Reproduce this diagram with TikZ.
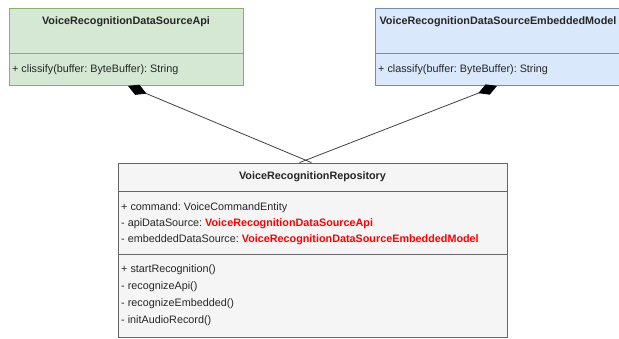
\documentclass[tikz,border=0pt]{standalone}
\usepackage{fontspec}
\setmainfont{Liberation Sans}
\usetikzlibrary{arrows.meta,positioning}
\definecolor{apifill}{HTML}{D5E8D4}
\definecolor{apiline}{HTML}{82B366}
\definecolor{modelfill}{HTML}{DAE8FC}
\definecolor{modelline}{HTML}{6C8EBF}
\definecolor{repofill}{HTML}{F5F5F5}
\definecolor{repoline}{HTML}{666666}
\definecolor{typered}{HTML}{FF0000}
\newcommand{\umlfont}{\fontsize{10.8}{13}\selectfont\frenchspacing}
\tikzset{
  classbox/.style={draw,line width=.8pt,inner sep=0pt},
  classname/.style={font=\umlfont\bfseries,text=black!85,inner sep=0pt},
  member/.style={font=\umlfont,anchor=west,inner sep=0pt,text=black!85},
  owns/.style={-{Diamond[length=20pt,width=11pt,fill=black,color=black]},draw=black!75,line width=.8pt}
}

\begin{document}
\begin{tikzpicture}[x=1pt,y=-1pt]
    \useasboundingbox (0,0) rectangle (619,338);
    \clip (0,0) rectangle (619,338);
    % data sources
    \node[classbox,fill=apifill,draw=apiline,minimum width=234pt,minimum height=77pt] (api) at (126,47) {};
    \draw[apiline,line width=.8pt] (api.west |- 0,53) -- (api.east |- 0,53);
    \node[classname] (apiname) at (126,21.5) {VoiceRecognitionDataSourceApi};
    \node[member] (apiop) at (12,70) {+ clissify(buffer: ByteBuffer): String};

    \node[classbox,fill=modelfill,draw=modelline,minimum width=246pt,minimum height=77pt] (model) at (498,47) {};
    \draw[modelline,line width=.8pt] (model.west |- 0,53) -- (model.east |- 0,53);
    \node[classname] (modelname) at (498,21.5) {VoiceRecognitionDataSourceEmbeddedModel};
    \node[member] (modelop) at (378,70) {+ classify(buffer: ByteBuffer): String};

    % repository
    \node[classbox,fill=repofill,draw=repoline,minimum width=389pt,minimum height=174pt] (repo) at (312.5,250) {};
    \draw[repoline,line width=.8pt] (repo.west |- 0,191) -- (repo.east |- 0,191);
    \draw[repoline,line width=.8pt] (repo.west |- 0,254) -- (repo.east |- 0,254);
    \node[classname] (reponame) at (312.5,177) {VoiceRecognitionRepository};
    \node[member] (attr1) at (121,208) {+ command: VoiceCommandEntity};
    \node[member] (attr2) at (121,224) {- apiDataSource: {\color{typered}\bfseries VoiceRecognitionDataSourceApi}};
    \node[member] (attr3) at (121,240) {- embeddedDataSource: {\color{typered}\bfseries VoiceRecognitionDataSourceEmbeddedModel}};
    \foreach \i/\y/\op in {1/270/+ startRecognition(),2/287/- recognizeApi(),3/304/- recognizeEmbedded(),4/321/- initAudioRecord()}{
      \node[member] (op\i) at (121,\y) {\op};
    }

    \draw[owns] ([xshift=-1pt]repo.north) -- ([xshift=2pt]api.south);
    \draw[owns] ([xshift=-13pt]repo.north) -- ([xshift=-1pt]model.south);
  \end{tikzpicture}
\end{document}
